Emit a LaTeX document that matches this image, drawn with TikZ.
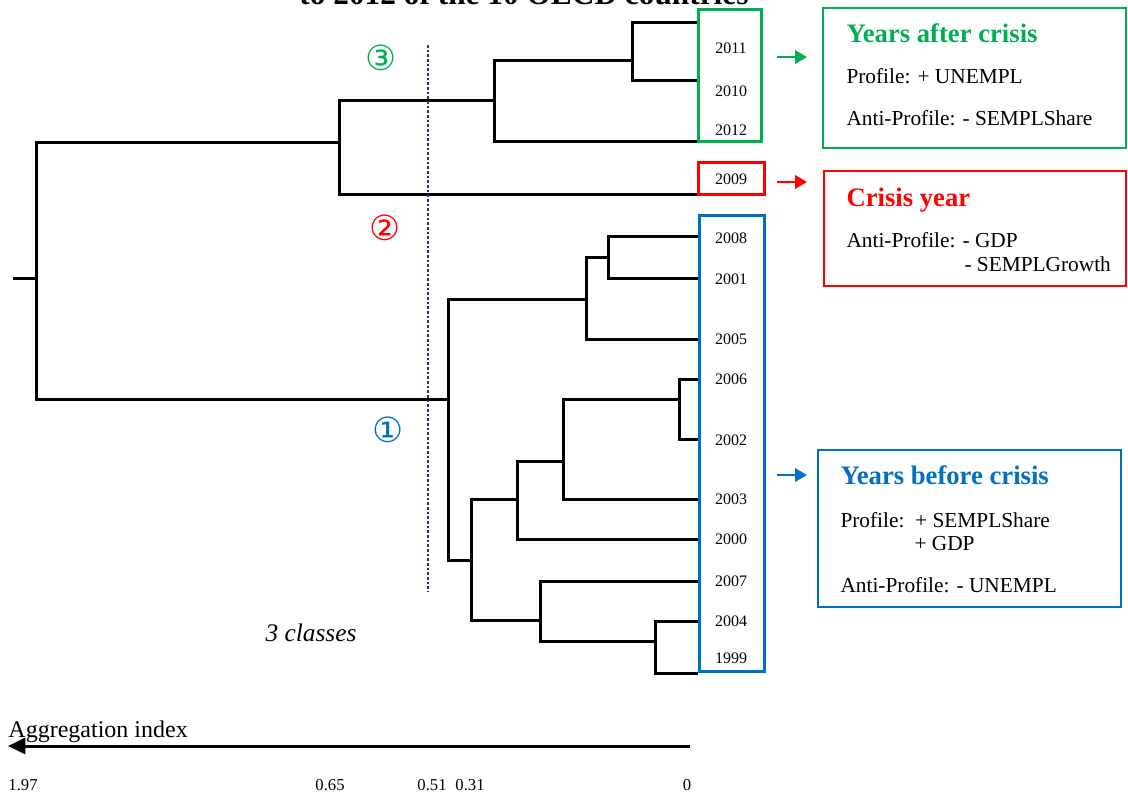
\documentclass[tikz,border=0pt]{standalone}
\usepackage{fontspec}
\setmainfont{Liberation Serif}
\newfontfamily\circfont{DejaVu Sans}
\usetikzlibrary{arrows.meta}
\definecolor{clgreen}{HTML}{00B050}
\definecolor{clred}{HTML}{FF0000}
\definecolor{clblue}{HTML}{0070C0}
\definecolor{cutnavy}{HTML}{1F3864}

\begin{document}
\begin{tikzpicture}[x=0.75pt,y=-0.75pt,line width=2.25pt]
    \tikzstyle{year}=[font=\fontsize{12}{14}\selectfont,inner sep=0pt]
    \tikzstyle{group}=[line width=2.25pt]
    \tikzstyle{info}=[line width=1.5pt]
    \tikzstyle{head}=[font=\fontsize{20}{24}\selectfont\bfseries,anchor=base west,inner sep=0pt]
    \tikzstyle{txt}=[font=\fontsize{16}{19}\selectfont,anchor=base west,inner sep=0pt]
    \tikzstyle{pointer}=[-{Triangle[length=9pt,width=10pt]},line width=2pt]
    \tikzstyle{circnum}=[font=\circfont\fontsize{26}{28}\selectfont,inner sep=0pt]
    \tikzstyle{tick}=[font=\fontsize{12.5}{14}\selectfont,inner sep=0pt]

    \useasboundingbox (0,0) rectangle (1128,796);
    \clip (0,0) rectangle (1128,796);

    % Title (cut at the top)
    \node[font=\fontsize{23.5}{28}\selectfont\bfseries,anchor=base,inner sep=0pt] (title) at (524,4) {to 2012 of the 10 OECD countries};

    % Leaves
    \coordinate (l2011) at (698,22);
    \coordinate (l2010) at (698,80);
    \coordinate (l2012) at (698,141);
    \coordinate (l2009) at (698,194);
    \coordinate (l2008) at (698,236);
    \coordinate (l2001) at (698,278);
    \coordinate (l2005) at (698,339);
    \coordinate (l2006) at (698,379);
    \coordinate (l2002) at (698,439);
    \coordinate (l2003) at (698,499);
    \coordinate (l2000) at (698,539);
    \coordinate (l2007) at (698,581);
    \coordinate (l2004) at (698,621);
    \coordinate (l1999) at (698,673);

    % Merges
    \coordinate (m1) at (632,60);
    \coordinate (m2) at (494,100);
    \coordinate (m3) at (339,142);
    \coordinate (m4) at (608,257);
    \coordinate (m5) at (586,299);
    \coordinate (m6) at (679,399);
    \coordinate (m7) at (563,461);
    \coordinate (m8) at (517,499);
    \coordinate (m9) at (655,641);
    \coordinate (m10) at (540,620);
    \coordinate (m11) at (471,560);
    \coordinate (m12) at (448,399);
    \coordinate (root) at (36,278);
    \coordinate (stub) at (13,278);

    % Branches
    \draw (l2011) -| (m1) |- (l2010);
    \draw (m1) -| (m2) |- (l2012);
    \draw (m2) -| (m3) |- (l2009);
    \draw (l2008) -| (m4) |- (l2001);
    \draw (m4) -| (m5) |- (l2005);
    \draw (l2006) -| (m6) |- (l2002);
    \draw (m6) -| (m7) |- (l2003);
    \draw (m7) -| (m8) |- (l2000);
    \draw (l2004) -| (m9) |- (l1999);
    \draw (l2007) -| (m10) |- (m9);
    \draw (m8) -| (m11) |- (m10);
    \draw (m5) -| (m12) |- (m11);
    \draw (m3) -| (root) |- (m12);
    \draw (stub) -- (root);

    % Cut
    \coordinate (cuttop) at (428,45);
    \coordinate (cutbot) at (428,592);
    \draw[cutnavy,line width=2.2pt,dash pattern=on 2pt off 1.5pt] (cuttop) -- (cutbot);

    % Class numbers
    \node[circnum,clgreen] (c3) at (381,58) {③};
    \node[circnum,clred] (c2) at (385,228) {②};
    \node[circnum,clblue] (c1) at (388,430) {①};
    \node[font=\fontsize{19}{22}\selectfont\itshape,inner sep=0pt] (ncls) at (311,633) {3 classes};

    % Groups
    \draw[group,clgreen] (698,9) rectangle (761,141);
    \draw[group,clred] (698,162) rectangle (764,194);
    \draw[group,clblue] (699,215) rectangle (764,671);

    % Years
    \node[year] (y2011) at (731,48) {2011};
    \node[year] (y2010) at (731,91) {2010};
    \node[year] (y2012) at (731,130) {2012};
    \node[year] (y2009) at (731,179) {2009};
    \node[year] (y2008) at (731,238) {2008};
    \node[year] (y2001) at (731,279) {2001};
    \node[year] (y2005) at (731,339) {2005};
    \node[year] (y2006) at (731,379) {2006};
    \node[year] (y2002) at (731,440) {2002};
    \node[year] (y2003) at (731,499) {2003};
    \node[year] (y2000) at (731,539) {2000};
    \node[year] (y2007) at (731,581) {2007};
    \node[year] (y2004) at (731,621) {2004};
    \node[year] (y1999) at (731,658) {1999};

    % Pointers
    \coordinate (ga) at (777,57);
    \coordinate (gb) at (807,57);
    \coordinate (ra) at (777,182);
    \coordinate (rb) at (807,182);
    \coordinate (ba) at (777,475);
    \coordinate (bb) at (807,475);
    \draw[pointer,clgreen] (ga) -- (gb);
    \draw[pointer,clred] (ra) -- (rb);
    \draw[pointer,clblue] (ba) -- (bb);

    % Descriptions
    \draw[info,clgreen] (823,8) rectangle (1126,148);
    \node[head,clgreen] (ghead) at (845,42) {Years after crisis};
    \node[txt] (gprof) at (845,83) {Profile: + UNEMPL};
    \node[txt] (ganti) at (845,125) {Anti-Profile: - SEMPLShare};

    \draw[info,clred] (824,171) rectangle (1126,286);
    \node[head,clred] (rhead) at (845,206) {Crisis year};
    \node[txt] (ranti) at (845,247) {Anti-Profile: - GDP};
    \node[txt] (ranti2) at (963,271) {- SEMPLGrowth};

    \draw[info,clblue] (818,450) rectangle (1121,607);
    \node[head,clblue] (bhead) at (839,484) {Years before crisis};
    \node[txt] (bprof) at (839,527) {Profile:\ \ + SEMPLShare};
    \node[txt] (bprof2) at (913,550) {+ GDP};
    \node[txt] (banti) at (839,592) {Anti-Profile: - UNEMPL};

    % Axis
    \coordinate (ax0) at (690,746);
    \coordinate (ax1) at (8,746);
    \draw[-{Triangle[length=13pt,width=12pt]},line width=2.25pt] (ax0) -- (ax1);
    \node[font=\fontsize{18}{21}\selectfont,anchor=base west,inner sep=0pt] (axname) at (7,737) {Aggregation index};
    \node[tick] (t197) at (23,785) {1.97};
    \node[tick] (t065) at (330,785) {0.65};
    \node[tick] (t051) at (432,785) {0.51};
    \node[tick] (t031) at (470,785) {0.31};
    \node[tick] (t0) at (687,785) {0};
\end{tikzpicture}
\end{document}
